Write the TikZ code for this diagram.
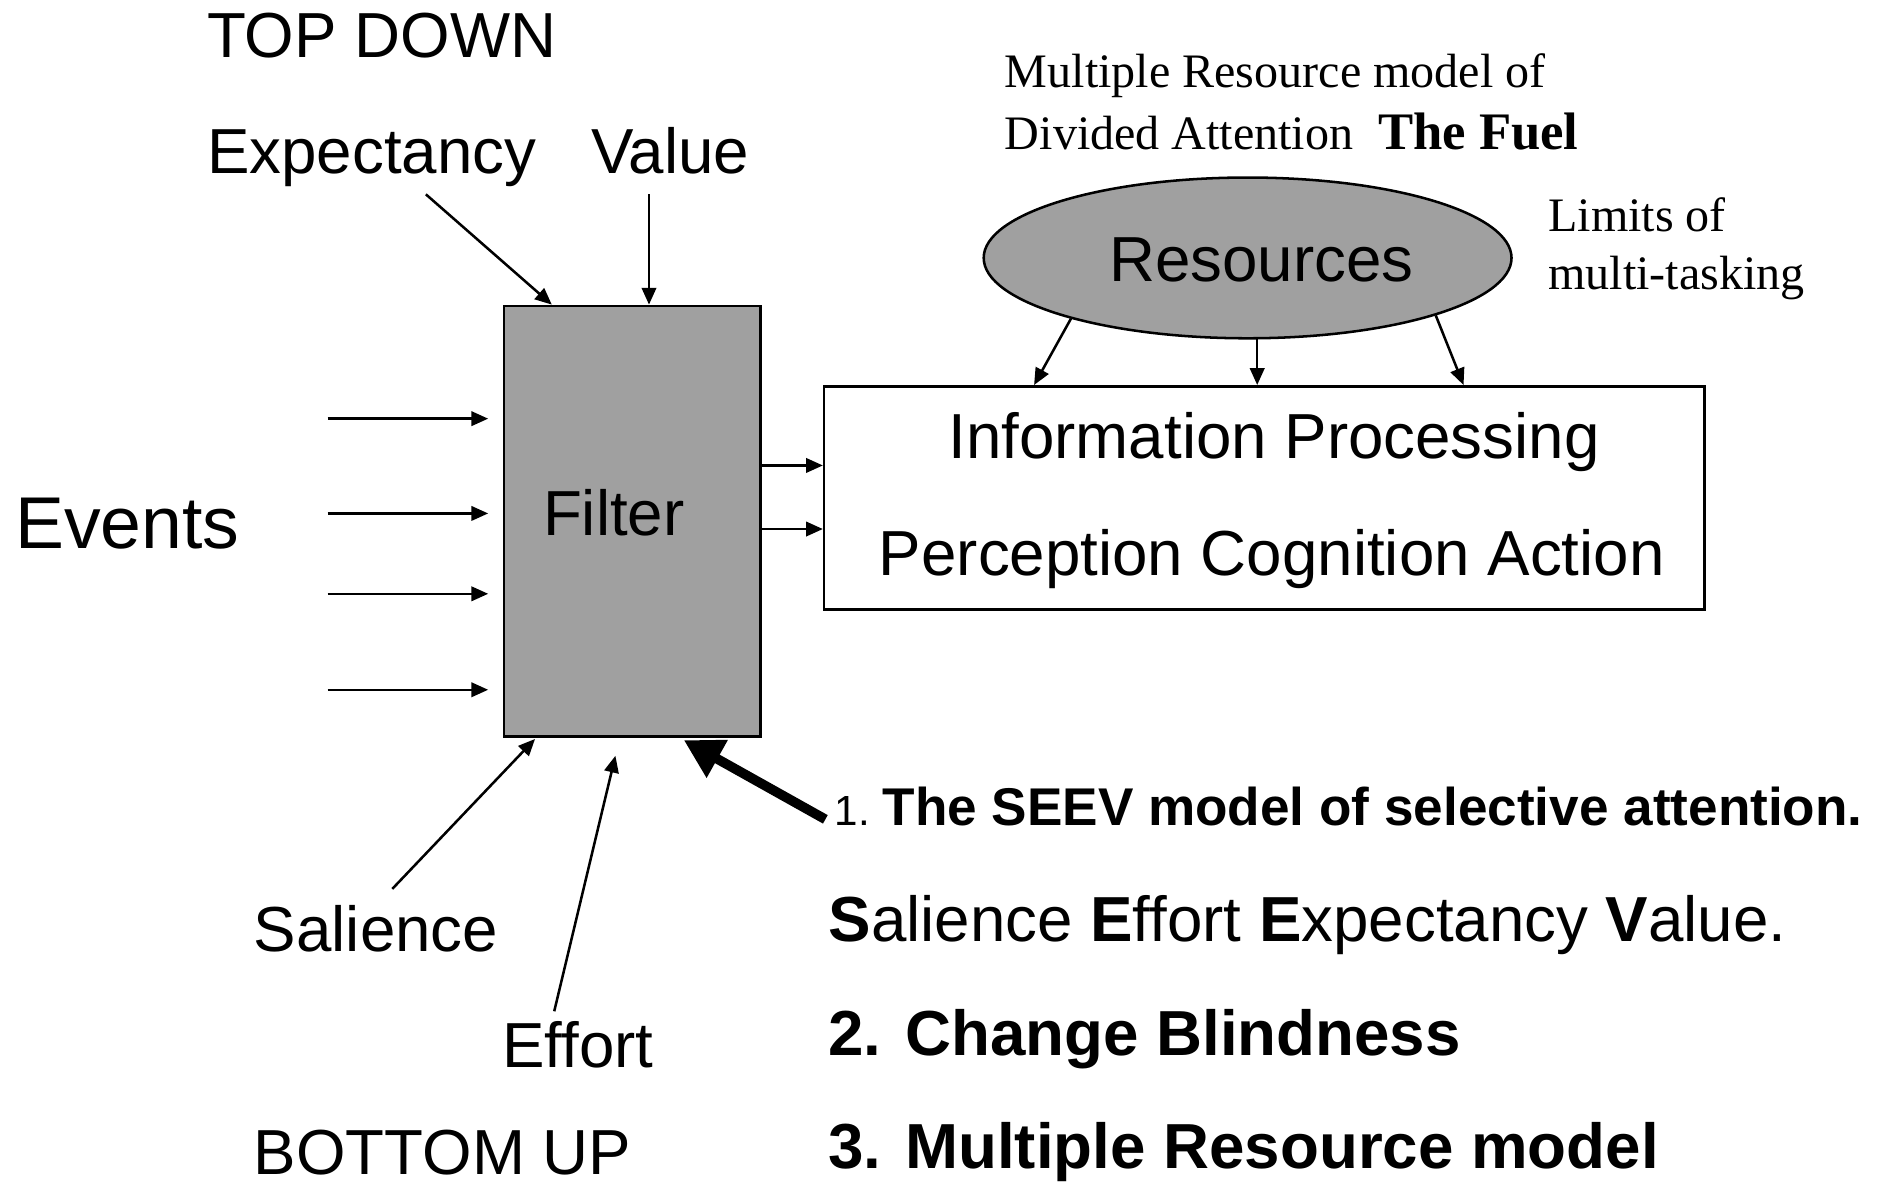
\documentclass[tikz,border=0pt]{standalone}
\usepackage{fontspec}
\setmainfont{Liberation Sans}
\newfontfamily\timesfont{Liberation Serif}
\usetikzlibrary{shapes.geometric,arrows.meta,calc}
\definecolor{boxgray}{HTML}{A0A0A0}
\tikzset{
  lbl/.style={anchor=base west, inner sep=0pt, font=\fontsize{15.1}{18}\selectfont},
  serif/.style={anchor=base west, inner sep=0pt, font=\timesfont\fontsize{11.4}{14}\selectfont},
  feed/.style={line width=0.6pt, -{Triangle[length=1.4mm,width=1.2mm]}},
  bigfeed/.style={line width=2.3pt, -{Triangle[length=3.2mm,width=3.4mm]}},
}

\begin{document}
\begin{tikzpicture}
\useasboundingbox (0,0) rectangle (15.68,-9.88);

\node[lbl] (topdown) at (1.72,-0.48) {TOP DOWN};
\node[lbl] (expect) at (1.72,-1.45) {Expectancy};
\node[lbl] (value) at (4.92,-1.45) {Value};
\node[lbl, font=\fontsize{17.4}{20}\selectfont] (events) at (0.12,-4.57) {Events};
\node[lbl] (salience) at (2.11,-7.93) {Salience};
\node[lbl] (effort) at (4.18,-8.90) {Effort};
\node[lbl] (bottomup) at (2.11,-9.79) {BOTTOM UP};

\node[draw, line width=0.6pt, fill=boxgray, minimum width=2.14cm, minimum height=3.59cm, inner sep=0pt] (filter) at (5.27,-4.345) {};
\node[lbl] (filtertxt) at (4.52,-4.46) {Filter};

\node[draw, line width=0.6pt, fill=white, minimum width=7.34cm, minimum height=1.86cm, inner sep=0pt] (info) at (10.54,-4.15) {};
\node[lbl] (infotxt) at (7.90,-3.82) {Information Processing};
\node[lbl] (pca) at (7.32,-4.80) {Perception Cognition Action};

\node[ellipse, draw, line width=0.6pt, fill=boxgray, minimum width=4.4cm, minimum height=1.34cm, inner sep=0pt] (res) at (10.40,-2.15) {};
\node[lbl] (restxt) at (9.24,-2.35) {Resources};

\node[serif] (mrm) at (8.37,-0.73) {Multiple Resource model of};
\node[serif] (divided) at (8.37,-1.25) {Divided Attention};
\node[serif, font=\timesfont\bfseries\fontsize{12.5}{15}\selectfont] (fuel) at (11.48,-1.25) {The Fuel};
\node[serif] (limits) at (12.90,-1.93) {Limits of};
\node[serif] (multitask) at (12.90,-2.41) {multi-tasking};

\node[lbl, font=\fontsize{10}{12}\selectfont] (one) at (6.95,-6.88) {1.};
\node[lbl, font=\bfseries\fontsize{12.6}{15}\selectfont] (seev) at (7.35,-6.88) {The SEEV model of selective attention.};
\node[lbl] (seevfull) at (6.90,-7.85) {{\bfseries S}alience {\bfseries E}ffort {\bfseries E}xpectancy {\bfseries V}alue.};
\node[lbl, font=\bfseries\fontsize{15.1}{18}\selectfont] (blind) at (6.90,-8.80) {2. Change Blindness};
\node[lbl, font=\bfseries\fontsize{15.1}{18}\selectfont] (multi) at (6.90,-9.74) {3. Multiple Resource model};

\coordinate (expfoot) at (3.55,-1.62);
\coordinate (valfoot) at (5.41,-1.62);
\coordinate (resfoot) at (10.48,-2.82);
\coordinate (salfoot) at (3.27,-7.41);
\coordinate (efffoot) at (4.62,-8.43);
\coordinate (seevtail) at (6.88,-6.83);

\draw[feed] (expfoot) -- (4.60,0 |- filter.north);
\draw[feed] (valfoot) -- (valfoot |- filter.north);
\foreach \y in {3.49,4.28,4.95,5.75}
  \draw[feed, shorten >=1.2mm] (2.73,-\y) -- (filter.west |- 0,-\y);
\foreach \y in {3.88,4.41}
  \draw[feed] (filter.east |- 0,-\y) -- (info.west |- 0,-\y);
\draw[feed] (res.199) -- (8.62,0 |- info.north);
\draw[feed] (resfoot) -- (resfoot |- info.north);
\draw[feed] (res.-17) -- (12.20,0 |- info.north);
\draw[feed] (salfoot) -- (4.46,-6.16);
\draw[feed] (efffoot) -- (5.13,-6.30);
\draw[bigfeed] (seevtail) -- (5.70,-6.17);
\end{tikzpicture}
\end{document}
